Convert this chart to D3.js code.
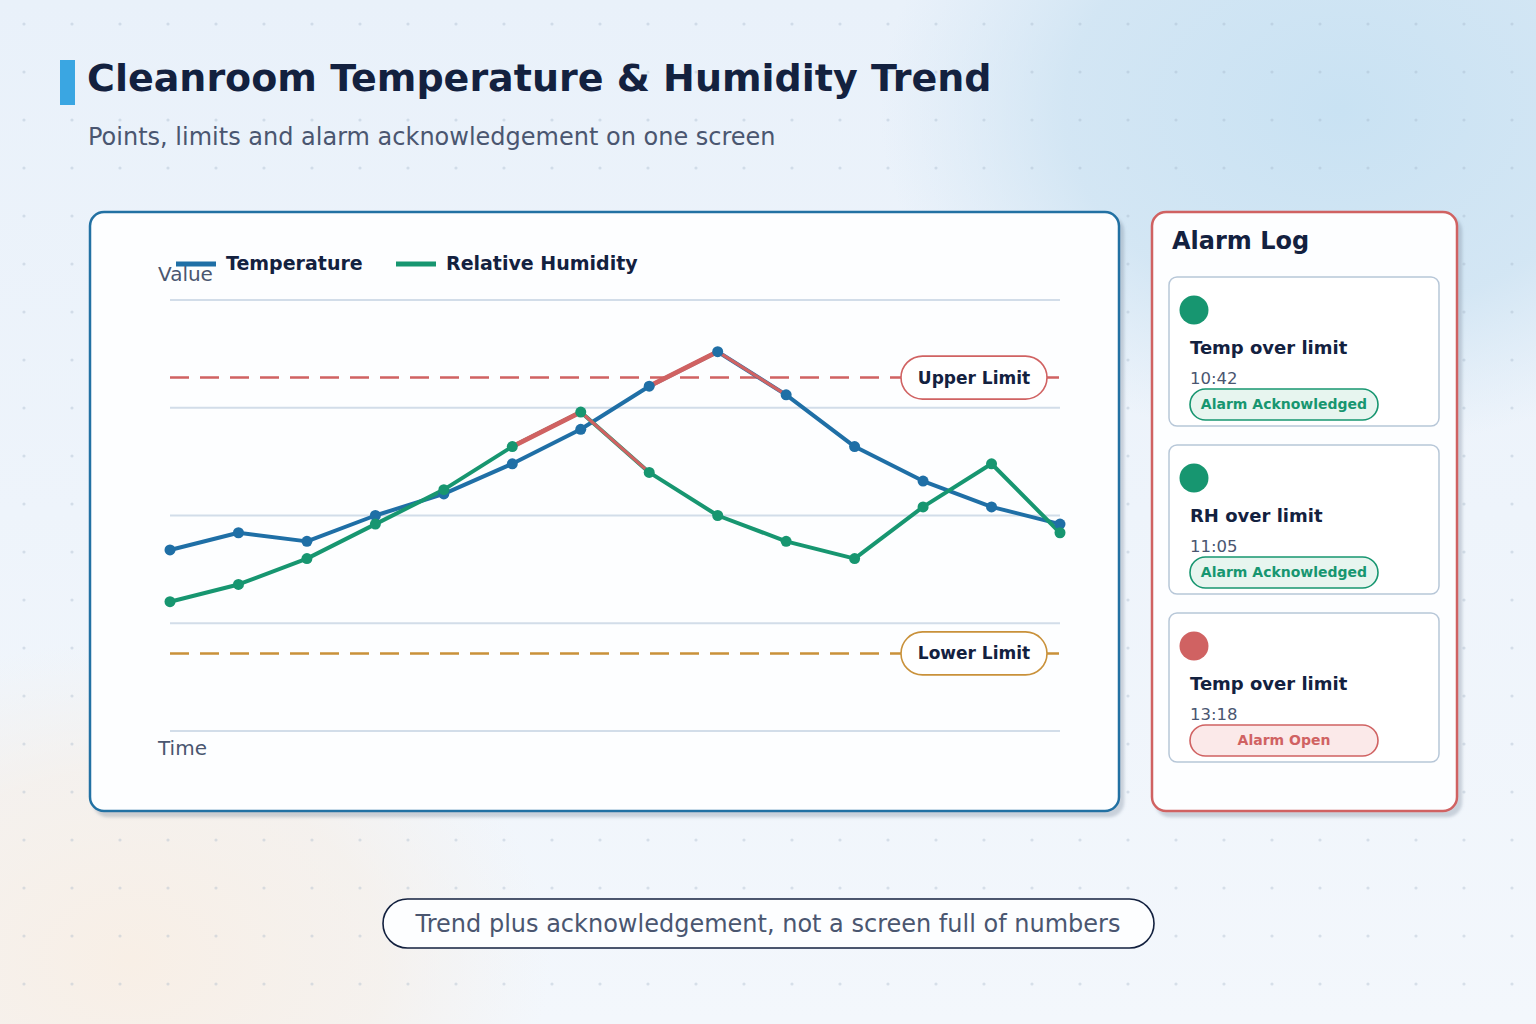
<!DOCTYPE html>
<meta charset="utf-8">
<style>
html, body { margin: 0; padding: 0; }
body { width: 1536px; height: 1024px; overflow: hidden; font-family: "DejaVu Sans", sans-serif; }
svg { display: block; }
</style>
<body>
<script src="https://cdn.jsdelivr.net/npm/d3@7/dist/d3.min.js"></script>
<script>

// data
var times = ["08:00","08:30","09:00","09:30","10:00","10:30","11:00",
             "11:30","12:00","12:30","13:00","13:30","14:00","14:30"];
var temperature = [42, 46, 44, 50, 55, 62, 70, 80, 88, 78, 66, 58, 52, 48];
var humidity    = [30, 34, 40, 48, 56, 66, 74, 60, 50, 44, 40, 52, 62, 46];
var tempAlarmAt = [8];   // index of points flagged in alarm
var rhAlarmAt   = [6];
var upperLimit = 82,
    lowerLimit = 18;
var gridTicks = [0, 25, 50, 75, 100];

var alarmTitles = ["Temp over limit", "RH over limit", "Temp over limit"];
var alarmTimes  = ["10:42", "11:05", "13:18"];
var alarmStates = ["Alarm Acknowledged", "Alarm Acknowledged", "Alarm Open"];

var width = 1536,
    height = 1024;

var blue = "#1f6fa6",
    green = "#179670",
    red = "#d06262",
    amber = "#c9913a",
    ink = "#13213f",
    muted = "#4a5670";

var svg = d3.select("body").append("svg")
    .attr("width", width)
    .attr("height", height);

var defs = svg.append("defs");

var bg = defs.append("linearGradient").attr("id", "bg")
    .attr("x1", 0).attr("y1", 0).attr("x2", 0).attr("y2", 1);
bg.append("stop").attr("offset", 0).attr("stop-color", "#e9f1fa");
bg.append("stop").attr("offset", 1).attr("stop-color", "#f3f7fc");

var glowBlue = defs.append("radialGradient").attr("id", "glowBlue")
    .attr("cx", 0.5).attr("cy", 0.5).attr("r", 0.5);
glowBlue.append("stop").attr("offset", 0).attr("stop-color", "#c9e2f3").attr("stop-opacity", 1);
glowBlue.append("stop").attr("offset", 0.6).attr("stop-color", "#cfe4f3").attr("stop-opacity", 0.85);
glowBlue.append("stop").attr("offset", 1).attr("stop-color", "#d4e6f4").attr("stop-opacity", 0);

var glowPeach = defs.append("radialGradient").attr("id", "glowPeach")
    .attr("cx", 0.5).attr("cy", 0.5).attr("r", 0.5);
glowPeach.append("stop").attr("offset", 0).attr("stop-color", "#f8efe6").attr("stop-opacity", 1);
glowPeach.append("stop").attr("offset", 0.6).attr("stop-color", "#f6efe8").attr("stop-opacity", 0.7);
glowPeach.append("stop").attr("offset", 1).attr("stop-color", "#f4f0ec").attr("stop-opacity", 0);

var dots = defs.append("pattern").attr("id", "dots")
    .attr("patternUnits", "userSpaceOnUse")
    .attr("width", 48).attr("height", 48);
dots.append("circle").attr("cx", 24).attr("cy", 24).attr("r", 1.6)
    .attr("fill", "#9fb0c4").attr("opacity", 0.35);

var shadow = defs.append("filter").attr("id", "shadow")
    .attr("x", -0.05).attr("y", -0.05).attr("width", 1.1).attr("height", 1.1);
shadow.append("feDropShadow").attr("dx", 4).attr("dy", 5).attr("stdDeviation", 1.5)
    .attr("flood-color", "#6b7a90").attr("flood-opacity", 0.3);

// background
svg.append("rect").attr("width", width).attr("height", height).attr("fill", "url(#bg)");
svg.append("ellipse").attr("cx", 1340).attr("cy", 110).attr("rx", 460).attr("ry", 340)
    .attr("fill", "url(#glowBlue)");
svg.append("ellipse").attr("cx", 130).attr("cy", 960).attr("rx", 420).attr("ry", 320)
    .attr("fill", "url(#glowPeach)");
svg.append("rect").attr("width", width).attr("height", height).attr("fill", "url(#dots)");

// title
svg.append("rect").attr("x", 60).attr("y", 60).attr("width", 15).attr("height", 45)
    .attr("fill", "#3aa6e2");
svg.append("text").attr("x", 87).attr("y", 91)
    .attr("fill", ink)
    .style("font", "bold 38px 'DejaVu Sans'")
    .text("Cleanroom Temperature & Humidity Trend");
svg.append("text").attr("x", 88).attr("y", 145)
    .attr("fill", muted)
    .style("font", "24px 'DejaVu Sans'")
    .text("Points, limits and alarm acknowledgement on one screen");

// chart card
svg.append("rect")
    .attr("x", 90).attr("y", 212).attr("width", 1029).attr("height", 599)
    .attr("rx", 14)
    .attr("fill", "#fdfeff")
    .attr("stroke", "#2471a3").attr("stroke-width", 2.5)
    .attr("filter", "url(#shadow)");

var x = d3.scalePoint().domain(times).range([170, 1060]);
var y = d3.scaleLinear().domain([0, 100]).range([731, 300]);

var plot = svg.append("g");

plot.append("g").selectAll("line")
    .data(gridTicks)
  .enter().append("line")
    .attr("x1", 170).attr("x2", 1060)
    .attr("y1", function(d) { return y(d); })
    .attr("y2", function(d) { return y(d); })
    .attr("stroke", "#d2dde9").attr("stroke-width", 2);

// limits
var limits = [
  {value: upperLimit, name: "Upper Limit", color: red},
  {value: lowerLimit, name: "Lower Limit", color: amber}
];

var lim = plot.append("g").selectAll("g")
    .data(limits)
  .enter().append("g");

lim.append("line")
    .attr("x1", 170).attr("x2", 1060)
    .attr("y1", function(d) { return y(d.value); })
    .attr("y2", function(d) { return y(d.value); })
    .attr("stroke", function(d) { return d.color; })
    .attr("stroke-width", 2.5)
    .attr("stroke-dasharray", "19,11");

lim.append("rect")
    .attr("x", 901).attr("width", 146)
    .attr("y", function(d) { return y(d.value) - 21.5; })
    .attr("height", 43).attr("rx", 21.5)
    .attr("fill", "#fff")
    .attr("stroke", function(d) { return d.color; })
    .attr("stroke-width", 1.6);

lim.append("text")
    .attr("x", 974)
    .attr("y", function(d) { return y(d.value) + 6; })
    .attr("text-anchor", "middle")
    .attr("fill", ink)
    .style("font", "bold 17px 'DejaVu Sans'")
    .text(function(d) { return d.name; });

// series
var series = [
  {name: "Temperature", values: temperature, color: blue, alarm: tempAlarmAt},
  {name: "Relative Humidity", values: humidity, color: green, alarm: rhAlarmAt}
];

var line = d3.line()
    .x(function(d, i) { return x(times[i]); })
    .y(function(d) { return y(d); });

series.forEach(function(s) {
  plot.append("path")
      .datum(s.values)
      .attr("fill", "none")
      .attr("stroke", s.color)
      .attr("stroke-width", 4)
      .attr("stroke-linejoin", "round")
      .attr("d", line);

  // segments into and out of an alarm point
  var segs = [];
  s.alarm.forEach(function(k) {
    if (k > 0) segs.push({a: k - 1, b: k, w: 4.8});
    if (k < s.values.length - 1) segs.push({a: k, b: k + 1, w: 3.2});
  });
  plot.append("g").selectAll("line")
      .data(segs)
    .enter().append("line")
      .attr("x1", function(d) { return x(times[d.a]); })
      .attr("y1", function(d) { return y(s.values[d.a]); })
      .attr("x2", function(d) { return x(times[d.b]); })
      .attr("y2", function(d) { return y(s.values[d.b]); })
      .attr("stroke", red)
      .attr("stroke-width", function(d) { return d.w; })
      .attr("stroke-linecap", "round");
});

series.forEach(function(s) {
  plot.append("g").selectAll("circle")
      .data(s.values)
    .enter().append("circle")
      .attr("cx", function(d, i) { return x(times[i]); })
      .attr("cy", function(d) { return y(d); })
      .attr("r", 5.5)
      .attr("fill", s.color);
});

// axis titles
svg.append("text").attr("x", 158).attr("y", 281)
    .attr("fill", muted).style("font", "20px 'DejaVu Sans'").text("Value");
svg.append("text").attr("x", 158).attr("y", 755)
    .attr("fill", muted).style("font", "20px 'DejaVu Sans'").text("Time");

// legend
var legend = svg.append("g").selectAll("g")
    .data(series)
  .enter().append("g")
    .attr("transform", function(d, i) { return "translate(" + (176 + 220 * i) + ",264)"; });
legend.append("line")
    .attr("x1", 0).attr("x2", 40)
    .attr("stroke", function(d) { return d.color; })
    .attr("stroke-width", 5);
legend.append("text")
    .attr("x", 50).attr("y", 6)
    .attr("fill", ink)
    .style("font", "bold 19px 'DejaVu Sans'")
    .text(function(d) { return d.name; });

// alarm log
svg.append("rect")
    .attr("x", 1152).attr("y", 212).attr("width", 305).attr("height", 599)
    .attr("rx", 14)
    .attr("fill", "#fdfeff")
    .attr("stroke", red).attr("stroke-width", 2.5)
    .attr("filter", "url(#shadow)");
svg.append("text").attr("x", 1172).attr("y", 249)
    .attr("fill", ink)
    .style("font", "bold 24px 'DejaVu Sans'")
    .text("Alarm Log");

var entries = alarmTitles.map(function(t, i) {
  return {title: t, time: alarmTimes[i], state: alarmStates[i]};
});

var card = svg.append("g").selectAll("g")
    .data(entries)
  .enter().append("g")
    .attr("transform", function(d, i) { return "translate(1169," + (277 + 168 * i) + ")"; });

card.append("rect")
    .attr("width", 270).attr("height", 149).attr("rx", 8)
    .attr("fill", "#fff")
    .attr("stroke", "#b7c7d8").attr("stroke-width", 1.5);

function isOpen(d) { return d.state === "Alarm Open"; }

card.append("circle")
    .attr("cx", 25).attr("cy", 33).attr("r", 14.5)
    .attr("fill", function(d) { return isOpen(d) ? red : green; });

card.append("text")
    .attr("x", 21).attr("y", 77)
    .attr("fill", ink)
    .style("font", "bold 18px 'DejaVu Sans'")
    .text(function(d) { return d.title; });

card.append("text")
    .attr("x", 21).attr("y", 107)
    .attr("fill", muted)
    .style("font", "16.5px 'DejaVu Sans'")
    .text(function(d) { return d.time; });

card.append("rect")
    .attr("x", 21).attr("y", 112).attr("width", 188).attr("height", 31).attr("rx", 15.5)
    .attr("fill", function(d) { return isOpen(d) ? "#fbe9e9" : "#e7f5ef"; })
    .attr("stroke", function(d) { return isOpen(d) ? red : green; })
    .attr("stroke-width", 1.6);

card.append("text")
    .attr("x", 115).attr("y", 132)
    .attr("text-anchor", "middle")
    .attr("fill", function(d) { return isOpen(d) ? red : green; })
    .style("font", "bold 14px 'DejaVu Sans'")
    .text(function(d) { return d.state; });

// footer note
svg.append("rect")
    .attr("x", 383).attr("y", 899).attr("width", 771).attr("height", 49).attr("rx", 24.5)
    .attr("fill", "#fdfeff")
    .attr("stroke", ink).attr("stroke-width", 1.6);
svg.append("text")
    .attr("x", 768).attr("y", 932)
    .attr("text-anchor", "middle")
    .attr("fill", muted)
    .style("font", "24px 'DejaVu Sans'")
    .text("Trend plus acknowledgement, not a screen full of numbers");

</script>
